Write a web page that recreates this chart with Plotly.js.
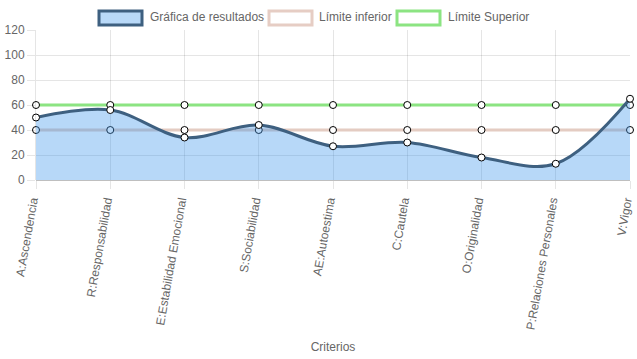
<!DOCTYPE html>
<html>
<head>
<meta charset="utf-8">
<script src="https://cdn.plot.ly/plotly-3.0.1.min.js"></script>
<style>html,body{margin:0;padding:0;background:#fff;}#chart{width:637px;height:359px;}</style>
</head>
<body>
<div id="chart"></div>
<script>
const categories = ["A:Ascendencia","R:Responsabilidad","E:Estabilidad Emocional","S:Sociabilidad","AE:Autoestima","C:Cautela","O:Originalidad","P:Relaciones Personales","V:Vigor"];
const resultados = [50, 56, 34, 44, 27, 30, 18, 13, 65];
const limiteInferior = [40, 40, 40, 40, 40, 40, 40, 40, 40];
const limiteSuperior = [60, 60, 60, 60, 60, 60, 60, 60, 60];
const legendNames = ["Gráfica de resultados", "Límite inferior", "Límite Superior"];
const yTicks = [0, 20, 40, 60, 80, 100, 120];

const FONT = "Liberation Sans, Arial, sans-serif";
const marker = {symbol: "circle", size: 7, color: "#fff", line: {color: "#000", width: 1}};

const traces = [
  {x: categories, y: limiteInferior, name: legendNames[1], type: "scatter", mode: "lines+markers", cliponaxis: false,
   line: {color: "rgb(228,204,194)", width: 3}, marker: marker},
  {x: categories, y: limiteSuperior, name: legendNames[2], type: "scatter", mode: "lines+markers", cliponaxis: false,
   line: {color: "rgb(140,228,130)", width: 3}, marker: marker},
  {x: categories, y: resultados, name: legendNames[0], type: "scatter", mode: "lines+markers", cliponaxis: false,
   fill: "tozeroy", fillcolor: "rgba(60,150,235,0.37)",
   line: {color: "rgb(62,96,128)", width: 3, shape: "spline", smoothing: 1}, marker: marker}
];

// custom legend (pixel -> paper conversion)
const L = 36, W = 594, B = 180, H = 150;
const px = v => (v - L) / W, py = v => (B - v) / H;
const boxes = [
  {x0: 99, x1: 142, fill: "rgb(185,217,248)", line: "rgb(62,96,128)"},
  {x0: 269, x1: 312, fill: "#fff", line: "rgb(230,205,196)"},
  {x0: 397, x1: 440, fill: "#fff", line: "rgb(140,228,130)"}
];
const textX = [148, 317, 446];
const shapes = boxes.map(b => ({type: "rect", xref: "paper", yref: "paper",
  x0: px(b.x0), x1: px(b.x1), y0: py(25), y1: py(11),
  fillcolor: b.fill, line: {color: b.line, width: 3}}));
const annotations = legendNames.map((n, i) => ({xref: "paper", yref: "paper", x: px(textX[i]), y: py(17),
  xanchor: "left", yanchor: "middle", text: n, showarrow: false, font: {family: FONT, size: 12, color: "#666"}}));

const layout = {
  width: 637, height: 359,
  margin: {l: 36, r: 7, t: 30, b: 179},
  paper_bgcolor: "#fff", plot_bgcolor: "#fff",
  showlegend: false,
  font: {family: FONT, size: 12, color: "#666"},
  xaxis: {
    type: "category", range: [0, 8], tickangle: -80,
    showgrid: true, gridcolor: "rgba(0,0,0,0.1)", gridwidth: 1,
    ticks: "outside", ticklen: 8, tickcolor: "rgba(0,0,0,0.1)",
    ticklabelshift: -4,
    showline: false, zeroline: false,
    tickfont: {family: FONT, size: 12, color: "#666"},
    title: {text: "Criterios", font: {family: FONT, size: 12, color: "#666"}, standoff: 12}
  },
  yaxis: {
    range: [0, 120], tickvals: yTicks, ticktext: yTicks.map(String),
    showgrid: true, gridcolor: "rgba(0,0,0,0.1)",
    ticks: "outside", ticklen: 8, tickcolor: "rgba(0,0,0,0.1)",
    zeroline: true, zerolinecolor: "rgba(0,0,0,0.25)", zerolinewidth: 1,
    showline: true, linecolor: "rgba(0,0,0,0.1)",
    tickfont: {family: FONT, size: 12, color: "#666"}
  },
  shapes: shapes,
  annotations: annotations
};

Plotly.newPlot("chart", traces, layout, {displayModeBar: false, staticPlot: true});
</script>
</body>
</html>
